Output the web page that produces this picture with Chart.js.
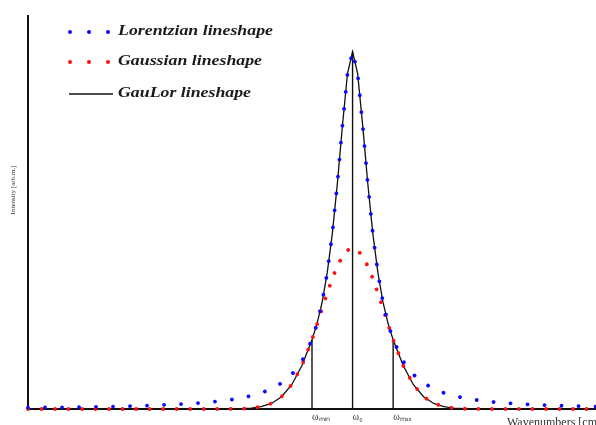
<!DOCTYPE html>
<html>
<head>
<meta charset="utf-8">
<script src="https://cdn.jsdelivr.net/npm/chart.js@4.4.1/dist/chart.umd.min.js"></script>
<style>
html,body{margin:0;padding:0;background:#fff;}
#wrap{width:596px;height:425px;position:relative;}
</style>
</head>
<body>
<div id="wrap"><canvas id="c" width="596" height="425"></canvas></div>
<script>
// Relative wavenumber (units of the half-width)
const xValues = [-8,-7,-6,-5,-4,-3.5,-3,-2.75,-2.5,-2.25,-2,-1.75,-1.5,-1.25,-1,-0.875,-0.75,-0.625,-0.5,-0.375,-0.25,-0.125,0,
  0.125,0.25,0.375,0.5,0.625,0.75,0.875,1,1.25,1.5,1.75,2,2.25,2.5,2.75,3,3.5,4,5,6];
const lorentzian = [0.0037,0.0049,0.0066,0.0095,0.0148,0.0192,0.0260,0.0308,0.0370,0.0453,0.0566,0.0727,0.0964,0.133,0.194,0.239,0.299,0.381,0.490,0.631,0.793,0.939,1.000,
  0.939,0.793,0.631,0.490,0.381,0.299,0.239,0.194,0.133,0.0964,0.0727,0.0566,0.0453,0.0370,0.0308,0.0260,0.0192,0.0148,0.0095,0.0066];
const gaussian = [0,0,0,0,0,0,0.0002,0.0008,0.0024,0.0064,0.0156,0.0344,0.068,0.121,0.194,0.237,0.281,0.324,0.365,0.400,0.427,0.444,0.450,
  0.444,0.427,0.400,0.365,0.324,0.281,0.237,0.194,0.121,0.068,0.0344,0.0156,0.0064,0.0024,0.0008,0.0002,0,0,0,0];
const gaulor = [0,0,0,0,0,0,0.0002,0.0008,0.0024,0.0064,0.0156,0.0344,0.068,0.121,0.194,0.239,0.299,0.381,0.490,0.631,0.793,0.939,1.000,
  0.939,0.793,0.631,0.490,0.381,0.299,0.239,0.194,0.121,0.068,0.0344,0.0156,0.0064,0.0024,0.0008,0.0002,0,0,0,0];
const markerPositions = [-1, 0, 1];
const tickLabels = ['ωₘᵢₙ', 'ω₀', 'ωₘₐₓ'];
const seriesNames = ['Lorentzian lineshape', 'Gaussian lineshape', 'GauLor lineshape'];
const yTitle = 'Intensity [arb.m.]';
const xTitle = 'Wavenumbers [cm⁻¹]';

const BLUE = '#0a0aff', RED = '#ff1010', BLACK = '#111';

const toPts = arr => xValues.map((x, i) => ({x: x, y: arr[i]}));

const markerSets = markerPositions.map(v => ({
  label: 'marker',
  data: [{x: v, y: 0}, {x: v, y: gaulor[xValues.indexOf(v)]}],
  borderColor: BLACK, borderWidth: 1.4, pointRadius: 0, showLine: true, clip: false
}));

const overlay = {
  id: 'overlay',
  afterDraw(chart) {
    const ctx = chart.ctx;
    ctx.save();
    // legend
    const rows = [32, 62, 94];
    const widths = [155, 144, 133];
    const cols = [BLUE, RED];
    [0, 1].forEach(r => {
      ctx.fillStyle = cols[r];
      [70, 89, 108].forEach(px => { ctx.beginPath(); ctx.arc(px, rows[r], 2, 0, Math.PI * 2); ctx.fill(); });
    });
    ctx.strokeStyle = BLACK; ctx.lineWidth = 1.3;
    ctx.beginPath(); ctx.moveTo(69, rows[2]); ctx.lineTo(113, rows[2]); ctx.stroke();
    ctx.fillStyle = '#1a1a1a';
    ctx.font = 'italic bold 14px "Liberation Serif", serif';
    ctx.textBaseline = 'middle'; ctx.textAlign = 'left';
    seriesNames.forEach((t, i) => {
      const w = ctx.measureText(t).width;
      ctx.save();
      ctx.translate(118, rows[i] - 1);
      ctx.scale(widths[i] / w, 1);
      ctx.fillText(t, 0, 0);
      ctx.restore();
    });
    // y title
    ctx.save();
    ctx.fillStyle = '#333';
    ctx.font = '7px "Liberation Serif", serif';
    ctx.translate(13, 190);
    ctx.rotate(-Math.PI / 2);
    ctx.textAlign = 'center';
    ctx.fillText(yTitle, 0, 0);
    ctx.restore();
    // x title (runs off the right edge as in the original)
    ctx.fillStyle = '#333';
    ctx.font = '12px "Liberation Serif", serif';
    ctx.textAlign = 'left'; ctx.textBaseline = 'top';
    ctx.fillText(xTitle, 507, 417);
    ctx.restore();
  }
};

new Chart(document.getElementById('c'), {
  type: 'scatter',
  data: {
    datasets: [
      {label: seriesNames[0], data: toPts(lorentzian), showLine: true, borderColor: BLUE, borderWidth: 3.8,
       borderDash: [0.01, 17], borderCapStyle: 'round', pointRadius: 0, clip: false},
      {label: seriesNames[1], data: toPts(gaussian), showLine: true, borderColor: RED, borderWidth: 3.8,
       borderDash: [0.01, 13.5], borderCapStyle: 'round', pointRadius: 0, clip: false},
      {label: seriesNames[2], data: toPts(gaulor), showLine: true, borderColor: BLACK, borderWidth: 1.3,
       pointRadius: 0, clip: false},
      ...markerSets
    ]
  },
  options: {
    responsive: false,
    animation: false,
    layout: {padding: {left: 28, top: 16, right: 0, bottom: 0}},
    plugins: {legend: {display: false}, tooltip: {enabled: false}},
    scales: {
      x: {
        type: 'linear', min: -8, max: 6,
        grid: {display: false, drawTicks: false},
        border: {display: true, color: '#111', width: 2},
        afterBuildTicks: s => { s.ticks = markerPositions.map(v => ({value: v})); },
        afterFit: s => { s.height = 16; },
        ticks: {
          align: 'start', padding: 2, color: '#333',
          font: {family: '"Liberation Serif", serif', size: 10},
          callback: v => tickLabels[markerPositions.indexOf(v)] ?? ''
        }
      },
      y: {
        type: 'linear', min: 0, max: 1.1,
        grid: {display: false, drawTicks: false},
        border: {display: true, color: '#111', width: 2},
        ticks: {display: false},
        afterFit: s => { s.width = 0; }
      }
    }
  },
  plugins: [overlay]
});
</script>
</body>
</html>
